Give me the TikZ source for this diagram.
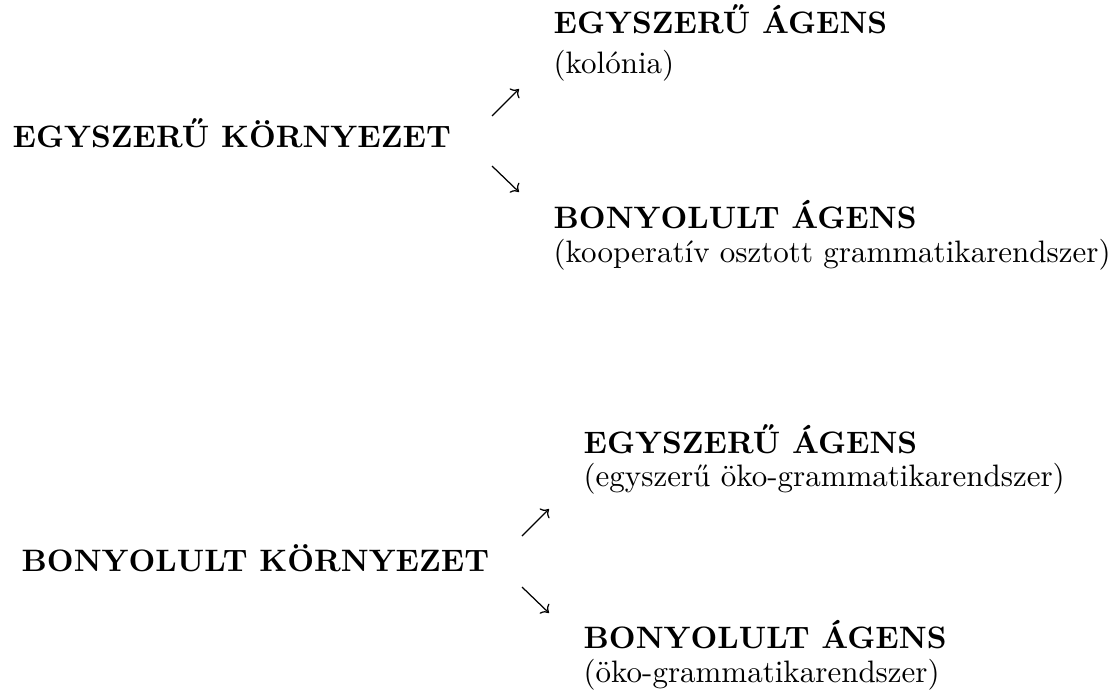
\documentclass[tikz,border=0pt]{standalone}
\usetikzlibrary{arrows.meta}
\begin{document}
\begin{tikzpicture}[x=0.32258pt, y=-0.32258pt,
  head/.style={anchor=base west, inner sep=0pt, font=\bfseries},
  sub/.style={anchor=base west, inner sep=0pt},
  arr/.style={-{To[length=2.2pt,width=4.4pt]}, line width=0.4pt}]
\useasboundingbox (0,0) rectangle (1117,695);
% upper group
\node[head] (e1) at (12,147) {EGYSZERŰ KÖRNYEZET};
\node[head] (a1) at (553,33) {EGYSZERŰ ÁGENS};
\node[sub] (a1s) at (553,74) {(kolónia)};
\node[head] (b1) at (553,228) {BONYOLULT ÁGENS};
\node[sub] (b1s) at (553,262) {(kooperatív osztott grammatikarendszer)};
\coordinate (u1s) at (492,116); \coordinate (u1e) at (519,89);
\coordinate (d1s) at (492,166); \coordinate (d1e) at (519,192);
\draw[arr] (u1s) -- (u1e);
\draw[arr] (d1s) -- (d1e);
% lower group
\node[head] (e2) at (21,571) {BONYOLULT KÖRNYEZET};
\node[head] (a2) at (583,453) {EGYSZERŰ ÁGENS};
\node[sub] (a2s) at (583,486) {(egyszerű öko-grammatikarendszer)};
\node[head] (b2) at (583,648) {BONYOLULT ÁGENS};
\node[sub] (b2s) at (583,682) {(öko-grammatikarendszer)};
\coordinate (u2s) at (522,536); \coordinate (u2e) at (549,509);
\coordinate (d2s) at (522,587); \coordinate (d2e) at (549,613);
\draw[arr] (u2s) -- (u2e);
\draw[arr] (d2s) -- (d2e);
\end{tikzpicture}
\end{document}
